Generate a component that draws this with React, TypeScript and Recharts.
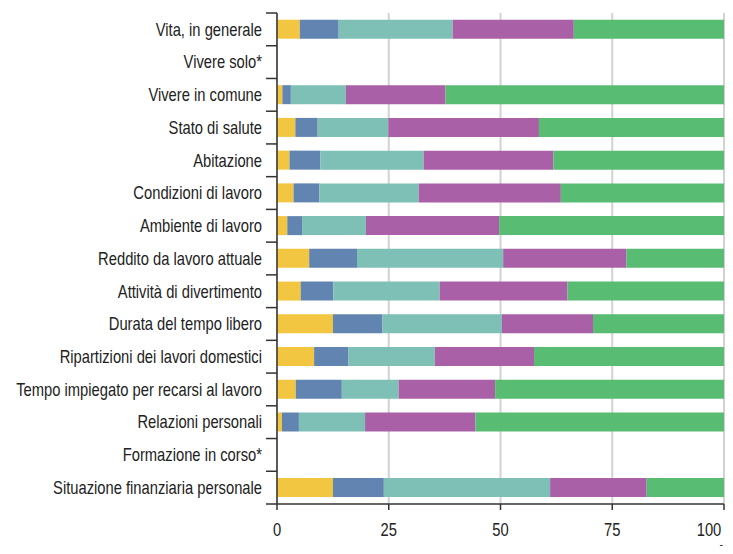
import React from 'react';
import { BarChart, Bar, XAxis, YAxis, CartesianGrid } from 'recharts';

const categories = [
  'Vita, in generale',
  'Vivere solo*',
  'Vivere in comune',
  'Stato di salute',
  'Abitazione',
  'Condizioni di lavoro',
  'Ambiente di lavoro',
  'Reddito da lavoro attuale',
  'Attività di divertimento',
  'Durata del tempo libero',
  'Ripartizioni dei lavori domestici',
  'Tempo impiegato per recarsi al lavoro',
  'Relazioni personali',
  'Formazione in corso*',
  'Situazione finanziaria personale',
];

// five satisfaction levels, low to high
const level1 = [5.1, null, 1.2, 4.1, 2.8, 3.7, 2.3, 7.2, 5.3, 12.5, 8.3, 4.2, 1.1, null, 12.5];
const level2 = [8.7, null, 1.9, 5.0, 6.9, 5.8, 3.3, 10.7, 7.3, 11.1, 7.7, 10.3, 3.8, null, 11.4];
const level3 = [25.5, null, 12.3, 15.8, 23.1, 22.2, 14.3, 32.7, 23.8, 26.7, 19.3, 12.7, 14.8, null, 37.2];
const level4 = [27.1, null, 22.3, 33.7, 29.0, 31.8, 29.8, 27.6, 28.6, 20.4, 22.2, 21.6, 24.7, null, 21.6];
const level5 = [33.6, null, 62.3, 41.4, 38.2, 36.5, 50.3, 21.8, 35.0, 29.3, 42.5, 51.2, 55.6, null, 17.3];

const xTicks = [0, 25, 50, 75, 100];

const seriesKeys = ['l1', 'l2', 'l3', 'l4', 'l5'];
const colors = ['#F2C641', '#6185B0', '#7EC0B6', '#AA60A7', '#58BC72'];

const data = categories.map((name, i) => ({
  name,
  l1: level1[i],
  l2: level2[i],
  l3: level3[i],
  l4: level4[i],
  l5: level5[i],
}));

const W = 717;
const H = 538;
const MARGIN = { top: 5, right: 1, left: 0, bottom: 0 };
const Y_WIDTH = 269;
const X_HEIGHT = 42;
const AXIS_X = MARGIN.left + Y_WIDTH;
const BAND = (H - MARGIN.top - MARGIN.bottom - X_HEIGHT) / categories.length;
const FONT = '"Liberation Sans", Arial, sans-serif';
const NARROW = 0.82; // squeeze to mimic a condensed face

function NarrowText({ x, y, anchor, size, children, dy = '0.35em' }: any) {
  return (
    <text
      transform={`translate(${x},${y}) scale(${NARROW},1)`}
      x={0}
      y={0}
      dy={dy}
      textAnchor={anchor}
      fill="#222"
      fontSize={size}
      fontFamily={FONT}
    >
      {children}
    </text>
  );
}

function CategoryTick(props: any) {
  const { y, payload, index } = props;
  const last = index === categories.length - 1;
  return (
    <g>
      <line x1={AXIS_X - 11} x2={AXIS_X} y1={y - BAND / 2} y2={y - BAND / 2} stroke="#333" strokeWidth={1.5} />
      {last && (
        <line x1={AXIS_X - 11} x2={AXIS_X} y1={y + BAND / 2} y2={y + BAND / 2} stroke="#333" strokeWidth={1.5} />
      )}
      <NarrowText x={AXIS_X - 15} y={y} anchor="end" size={18}>
        {payload.value}
      </NarrowText>
    </g>
  );
}

function ValueTick(props: any) {
  const { x, y, payload } = props;
  const shift = payload.value === 100 ? -4 : 0;
  return (
    <NarrowText x={x + shift} y={y + 5} anchor="middle" size={18} dy="0.71em">
      {payload.value}
    </NarrowText>
  );
}

function PercentLabel(props: any) {
  const vb = props.viewBox || {};
  const x = (vb.x || 0) + (vb.width || 0) + 1;
  const y = (vb.y || 0) + 54;
  return (
    <NarrowText x={x} y={y} anchor="middle" size={18} dy="0">
      %
    </NarrowText>
  );
}

export default function App() {
  return (
    <>
      <style>{'svg.recharts-surface{overflow:visible}'}</style>
      <BarChart
        width={W}
        height={H}
        data={data}
        layout="vertical"
        margin={MARGIN}
        barCategoryGap="20.5%"
      >
        <CartesianGrid horizontal={false} stroke="#d2d2d2" strokeWidth={2} />
        <XAxis
          type="number"
          domain={[0, 100]}
          ticks={xTicks}
          height={X_HEIGHT}
          axisLine={{ stroke: '#333', strokeWidth: 1.5 }}
          tickLine={{ stroke: '#333', strokeWidth: 1.5 }}
          tickSize={6}
          tickMargin={8}
          tick={<ValueTick />}
          label={<PercentLabel />}
        />
        <YAxis
          type="category"
          dataKey="name"
          width={Y_WIDTH}
          axisLine={{ stroke: '#333', strokeWidth: 1.5 }}
          tickLine={false}
          interval={0}
          tick={<CategoryTick />}
        />
        {seriesKeys.map((k, i) => (
          <Bar key={k} dataKey={k} stackId="a" fill={colors[i]} isAnimationActive={false} />
        ))}
      </BarChart>
    </>
  );
}
